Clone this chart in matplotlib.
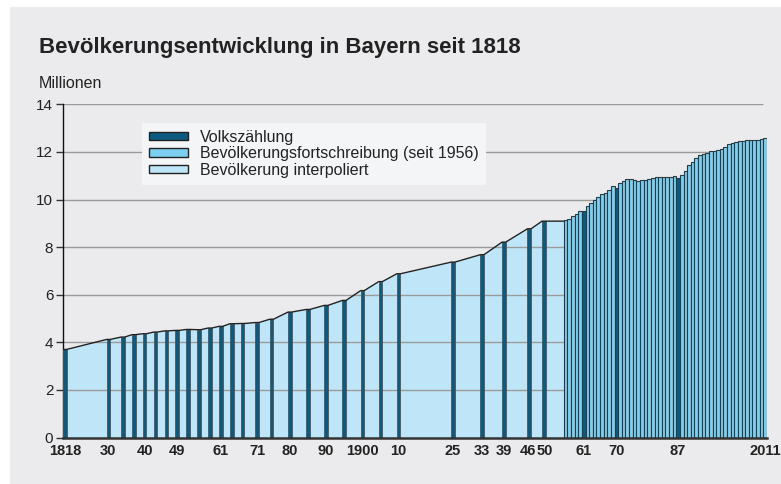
import numpy as np
import matplotlib
matplotlib.use('Agg')
import matplotlib.pyplot as plt
from matplotlib.patches import Patch, Rectangle

plt.rcParams['font.family'] = ['Liberation Sans', 'DejaVu Sans']

# Volkszählungen (Mio.)
census_years = [1818, 1830, 1834, 1837, 1840, 1843, 1846, 1849, 1852, 1855,
                1858, 1861, 1864, 1867, 1871, 1875, 1880, 1885, 1890, 1895,
                1900, 1905, 1910, 1925, 1933, 1939, 1946, 1950]
census_pop = [3.70, 4.12, 4.22, 4.32, 4.36, 4.43, 4.48, 4.50, 4.54, 4.53,
              4.60, 4.67, 4.78, 4.79, 4.83, 4.97, 5.27, 5.38, 5.55, 5.76,
              6.17, 6.55, 6.88, 7.37, 7.68, 8.21, 8.77, 9.09]

# Fortschreibung ab 1956 (Mio.)
annual_years = list(range(1956, 2012))
annual_pop = [9.14, 9.20, 9.29, 9.37, 9.50, 9.52, 9.73, 9.84, 9.97, 10.10,
              10.22, 10.29, 10.40, 10.55, 10.47, 10.69, 10.78, 10.85, 10.85, 10.81,
              10.79, 10.81, 10.82, 10.86, 10.92, 10.95, 10.95, 10.95, 10.93, 10.95,
              11.00, 10.89, 11.03, 11.20, 11.44, 11.59, 11.74, 11.86, 11.90, 11.95,
              12.02, 12.05, 12.08, 12.14, 12.22, 12.32, 12.39, 12.42, 12.44, 12.46,
              12.49, 12.50, 12.50, 12.49, 12.53, 12.58]
census_later = [1961, 1970, 1987]

tick_years = [1818, 1830, 1840, 1849, 1861, 1871, 1880, 1890, 1900, 1910,
              1925, 1933, 1939, 1946, 1950, 1961, 1970, 1987, 2011]
tick_labels = ['1818', '30', '40', '49', '61', '71', '80', '90', '1900', '10',
               '25', '33', '39', '46', '50', '61', '70', '87', '2011']

c_census = '#0d5a80'
c_annual = '#7ccff0'
c_interp = '#bfe6f8'
bg = '#ebebed'

W, H = 781, 484
fig = plt.figure(figsize=(W / 100, H / 100), dpi=100)
fig.patches.append(Rectangle((10 / W, 0), 1 - 10 / W, 1 - 7 / H,
                             transform=fig.transFigure, color=bg, zorder=-10))

ax = fig.add_axes([63 / W, 1 - 437.5 / H, (767 - 63) / W, (437.5 - 104.3) / H])
ax.set_facecolor('none')

# interpolierte Fläche
cy = np.array(census_years, dtype=float)
cp = np.array(census_pop)
fx = np.column_stack((cy, cy + 1)).ravel()
fy = np.repeat(cp, 2)
fx = np.append(fx, annual_years[0])
fy = np.append(fy, cp[-1])
ax.fill_between(fx, 0, fy, color=c_interp, lw=0, zorder=1)
ax.plot(fx, fy, color='#222222', lw=1.0, zorder=4)

# Gitterlinien
ax.hlines(np.arange(2, 15, 2), 1818, 2011, color='#9a9a9a', lw=1.0, zorder=1.5)

# Volkszählungsbalken
ax.bar(census_years, census_pop, width=1, align='edge', color=c_census,
       edgecolor='#555555', lw=0.6, zorder=3)

# Fortschreibung
cols = [c_census if y in census_later else c_annual for y in annual_years]
ax.bar(annual_years, annual_pop, width=1, align='edge', color=cols,
       edgecolor='#2e3a42', lw=0.8, zorder=3)

ax.set_xlim(1818, 2012)
ax.set_ylim(0, 14)
ax.set_yticks(np.arange(0, 15, 2))
xpos = np.array(tick_years) + 0.5
xpos[tick_labels.index('46')] -= 0.4
xpos[tick_labels.index('50')] += 0.4
ax.set_xticks(xpos)
ax.set_xticklabels(tick_labels, fontsize=10.5, fontweight='bold', color='#222222')
ax.tick_params(axis='x', length=0, pad=5)
ax.tick_params(axis='y', length=5, width=1, color='#333333', labelsize=11,
               labelcolor='#222222', pad=2)
for s in ['top', 'right']:
    ax.spines[s].set_visible(False)
ax.spines['left'].set_color('#111111')
ax.spines['left'].set_linewidth(1.0)
ax.spines['bottom'].set_color('#333333')
ax.spines['bottom'].set_linewidth(1.8)
ax.spines['bottom'].set_zorder(5)

fig.text(39 / W, 1 - 53.3 / H, 'Bevölkerungsentwicklung in Bayern seit 1818',
         fontsize=16, fontweight='bold', color='#222222', va='baseline')
fig.text(39 / W, 1 - 88 / H, 'Millionen', fontsize=11.5, color='#222222',
         va='baseline')

handles = [Patch(facecolor=c_census, edgecolor='#222222', lw=1),
           Patch(facecolor=c_annual, edgecolor='#222222', lw=1),
           Patch(facecolor=c_interp, edgecolor='#222222', lw=1)]
labels = ['Volkszählung', 'Bevölkerungsfortschreibung (seit 1956)',
          'Bevölkerung interpoliert']
leg = fig.legend(handles, labels, loc='upper left',
                 bbox_to_anchor=(142 / W, 1 - 122.5 / H), borderaxespad=0,
                 fontsize=11.5, handlelength=2.4, handleheight=0.45,
                 handletextpad=0.8, labelspacing=0.1, borderpad=0.45,
                 fancybox=False, framealpha=1, facecolor='#f4f5f7',
                 edgecolor='none')
for t in leg.get_texts():
    t.set_color('#222222')

fig.savefig('out.png', dpi=100)
